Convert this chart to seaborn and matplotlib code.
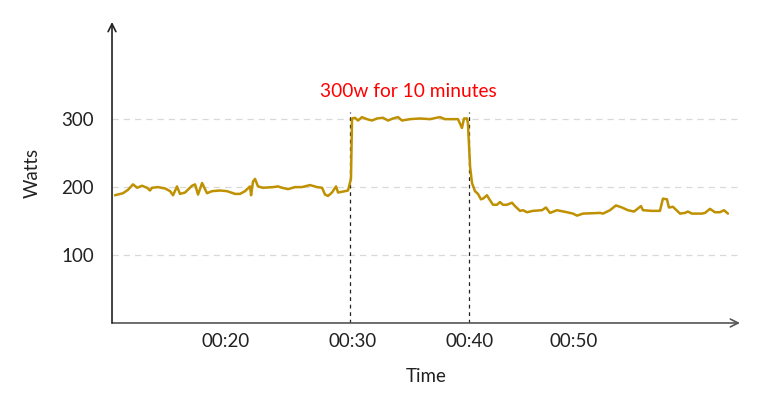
import pandas as pd
import matplotlib
matplotlib.use("Agg")
import matplotlib.pyplot as plt
import seaborn as sns

# Power trace: time in minutes, power in watts
minutes = [10.33, 11.0, 11.42, 11.84, 12.18, 12.59, 13.01, 13.26, 13.43, 13.93,
           14.52, 14.94, 15.19, 15.52, 15.77, 16.19, 16.78, 17.03, 17.28, 17.62,
           18.03, 18.45, 19.12, 19.71, 20.38, 20.79, 21.21, 21.63, 21.72, 21.88,
           22.05, 22.30, 22.72, 23.56, 23.97, 24.31, 24.81, 25.40, 25.98, 26.65,
           27.24, 27.66, 27.91, 28.16, 28.49, 28.83, 29.00, 29.58, 29.83, 30.08,
           30.17, 30.42, 30.67, 31.00, 31.42, 31.84, 32.26, 32.76, 33.18, 33.60,
           34.02, 34.35, 35.02, 35.86, 36.69, 37.53, 37.95, 38.62, 39.04, 39.37,
           39.54, 39.79, 39.87, 40.05, 40.21, 40.46, 40.71, 40.96, 41.13, 41.46,
           41.63, 41.97, 42.30, 42.55, 42.80, 43.14, 43.56, 43.81, 44.23, 44.48,
           44.81, 45.31, 46.07, 46.40, 46.74, 47.32, 48.16, 48.66, 49.00, 49.50,
           50.92, 51.17, 51.76, 52.26, 52.76, 53.26, 53.77, 54.35, 54.52, 55.27,
           55.94, 56.19, 56.53, 56.69, 57.03, 57.62, 58.03, 58.28, 58.62, 59.46,
           59.71, 60.13, 60.54, 60.96, 61.30, 61.63]
watts = [188, 191, 196, 204, 199, 202, 199, 195, 199, 200,
         198, 194, 188, 201, 190, 192, 202, 204, 189, 206,
         191, 194, 195, 194, 190, 190, 194, 201, 188, 208,
         212, 201, 199, 200, 201, 199, 197, 200, 200, 203,
         200, 199, 189, 187, 192, 201, 192, 194, 195, 212,
         301, 302, 298, 303, 300, 298, 301, 302, 298, 301,
         303, 298, 300, 301, 300, 303, 300, 300, 300, 287,
         301, 301, 294, 230, 206, 194, 190, 182, 183, 188,
         183, 174, 174, 178, 174, 174, 177, 172, 165, 166,
         163, 165, 166, 170, 162, 166, 163, 161, 158, 161,
         162, 161, 166, 173, 170, 166, 164, 172, 166, 165,
         165, 183, 182, 170, 171, 161, 162, 164, 161, 161,
         162, 168, 163, 163, 166, 161]

tick_pos = [19.6, 30.25, 40.0, 48.7]
tick_labels = ['00:20', '00:30', '00:40', '00:50']
y_ticks = [100, 200, 300]
marker_minutes = [30, 40]

df = pd.DataFrame({'Time': minutes, 'Watts': watts})

sns.set_style('white')
plt.rcParams['font.family'] = ['Lato', 'DejaVu Sans']

fig = plt.figure(figsize=(7.8, 4.05), dpi=100)
ax = fig.add_axes([0.1436, 0.2025, 0.8051, 0.7432])

sns.lineplot(data=df, x='Time', y='Watts', ax=ax, color='#BF9000',
             linewidth=1.8, zorder=3)

ax.set_xlim(10.08, 62.64)
ax.set_ylim(0, 443)

# dashed light grid
for v in y_ticks:
    ax.axhline(v, color='#D9D9D9', linestyle=(0, (5, 4)), linewidth=0.9, zorder=1)

# the 10-minute effort window
for m in marker_minutes:
    ax.plot([m, m], [0, 310], color='#222222', linestyle=(0, (3, 3)),
            linewidth=0.9, zorder=2)

ax.text(34.85, 341, '300w for 10 minutes', color='#FF0000', fontsize=13.8,
        ha='center', va='center')

ax.set_yticks(y_ticks)
ax.set_xticks(tick_pos)
ax.set_xticklabels(tick_labels)
ax.tick_params(axis='both', length=0, labelsize=13.5, colors='#222222')
ax.tick_params(axis='y', pad=13)
ax.tick_params(axis='x', pad=7)

ax.set_xlabel('Time', fontsize=13.5, labelpad=13, color='#222222')
ax.set_ylabel('Watts', fontsize=13.5, labelpad=15, color='#222222')

for s in ax.spines.values():
    s.set_visible(False)

# axes drawn as arrows
ax.annotate('', xy=(1.0, 0), xytext=(0, 0), xycoords='axes fraction',
            arrowprops=dict(arrowstyle='->', color='#555555', lw=1.2,
                            shrinkA=0, shrinkB=0, mutation_scale=14))
ax.annotate('', xy=(0, 1.0), xytext=(0, 0), xycoords='axes fraction',
            arrowprops=dict(arrowstyle='->', color='#222222', lw=1.2,
                            shrinkA=0, shrinkB=0, mutation_scale=14))

fig.savefig('out.png', dpi=100)
